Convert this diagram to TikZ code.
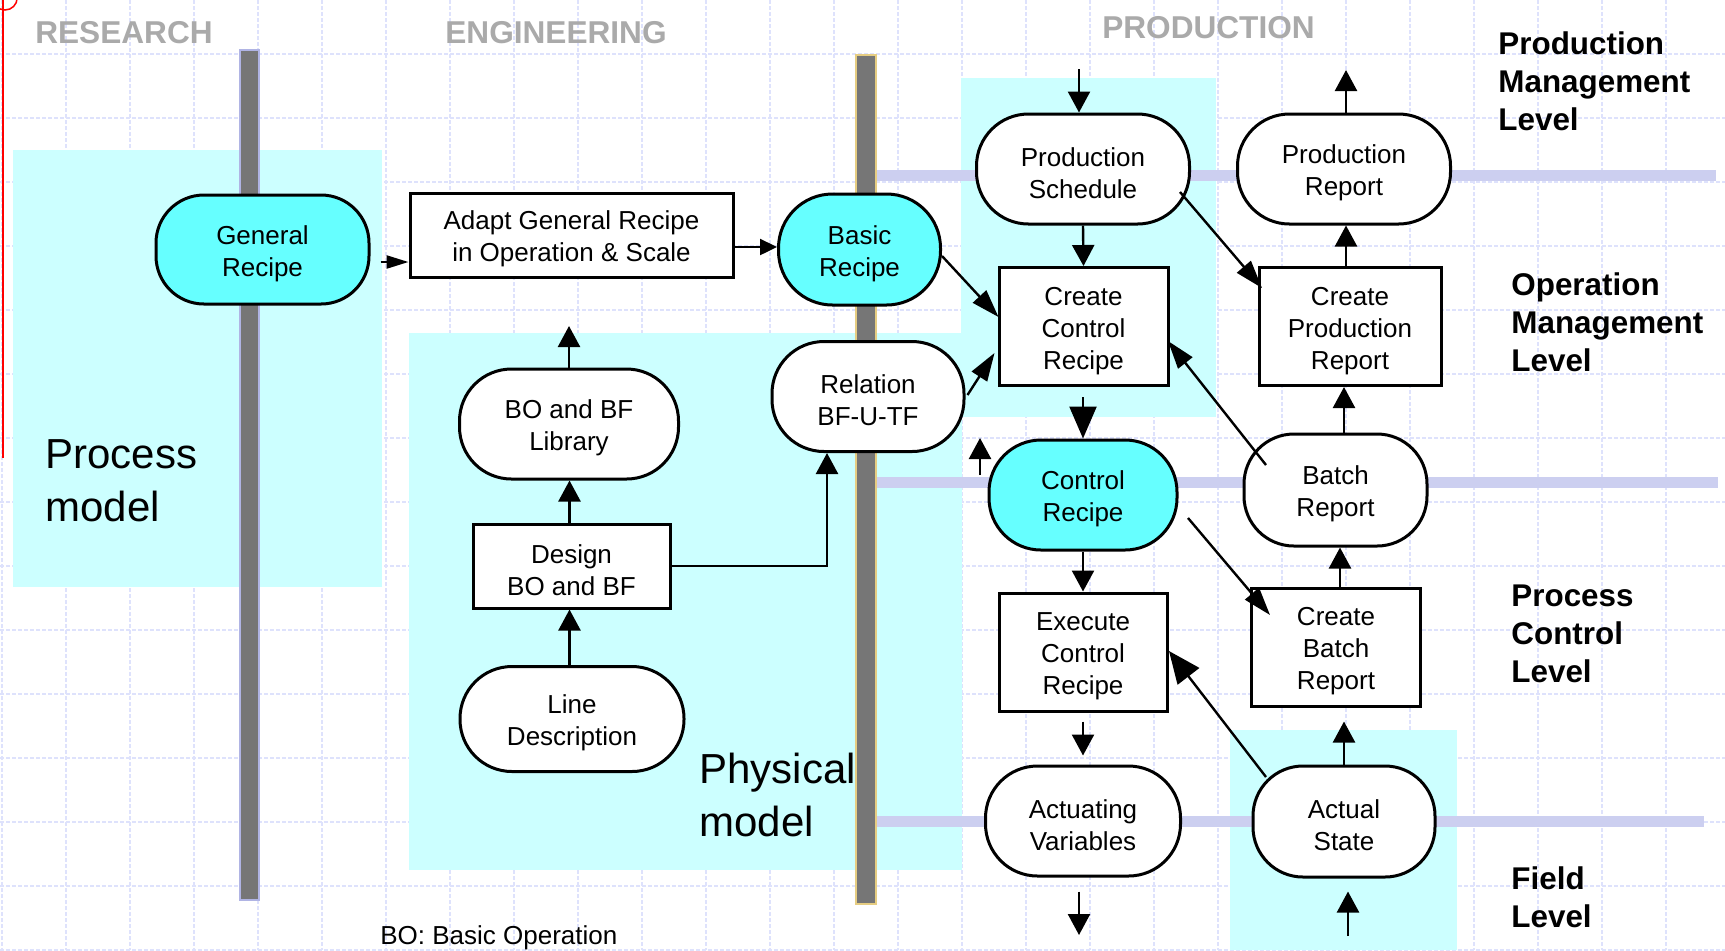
\documentclass[tikz,border=0pt]{standalone}
\usepackage{fontspec}
\setmainfont{Liberation Sans}
\usetikzlibrary{arrows.meta,calc}
\definecolor{lightcyan}{RGB}{204,255,255}
\definecolor{nodecyan}{RGB}{102,255,255}
\definecolor{gridblue}{RGB}{222,226,252}
\definecolor{levelstrip}{RGB}{204,207,240}
\definecolor{headgray}{RGB}{170,170,170}
\definecolor{barfill}{RGB}{118,118,118}
\definecolor{barlav}{RGB}{176,180,228}
\definecolor{baryel}{RGB}{230,205,130}
\newcommand{\tstrut}{\rule{0pt}{13.5pt}}
\begin{document}
\begin{tikzpicture}[x=0.5pt,y=-0.5pt,
  txt/.style={font=\fontsize{13}{16}\selectfont, align=center, inner sep=0pt, text=black},
  boxnode/.style={txt, rectangle, draw=black, line width=1.5pt, fill=white},
  stadnode/.style={txt, rectangle, rounded corners=26pt, draw=black, line width=1.5pt, fill=white},
  gridline/.style={draw=gridblue, line width=0.6pt, dash pattern=on 2pt off 1pt},
  con/.style={line width=1.2pt, -{Triangle[length=10.5pt,width=11pt]}},
  cona/.style={line width=1.2pt, -{Triangle[length=11pt,width=6.5pt]}},
  conb/.style={line width=1.2pt, -{Triangle[length=8.5pt,width=8pt]}},
  condiag/.style={line width=1.2pt, -{Triangle[length=14pt,width=9pt]}},
  conbig/.style={line width=1.2pt, -{Triangle[length=16pt,width=13.5pt]}},
  levellabel/.style={anchor=west, align=left, inner sep=0pt, font=\fontsize{15.7}{19}\bfseries\selectfont},
  header/.style={inner sep=0pt, text=headgray, font=\fontsize{15.8}{19}\bfseries\selectfont},
  bigtext/.style={anchor=west, align=left, inner sep=0pt, font=\fontsize{21}{26.5}\selectfont}
]
\clip (0,0) rectangle (1725,950);
\fill[white] (0,0) rectangle (1725,950);

% grid
\foreach \i in {0,...,26} \draw[gridline] ({2+64*\i},0) -- ({2+64*\i},950);
\foreach \j in {0,...,14} \draw[gridline] (0,{54+64*\j}) -- (1725,{54+64*\j});

% cyan regions
\fill[lightcyan] (13,150) rectangle (382,587);
\fill[lightcyan] (409,333) rectangle (962,870);
\fill[lightcyan] (961,78) rectangle (1216,417);
\fill[lightcyan] (1230,730) rectangle (1457,950);

% level strips
\fill[levelstrip] (876,170) rectangle (1716,181);
\fill[levelstrip] (876,477) rectangle (1718,488);
\fill[levelstrip] (876,816) rectangle (1704,827);

% vertical bars
\filldraw[fill=barfill, draw=barlav, line width=0.6pt] (240,50) rectangle (259,900);
\filldraw[fill=barfill, draw=baryel, line width=0.6pt] (856,55) rectangle (876,904);

% red mark
\draw[red, line width=0.75pt] (3,0) -- (3,458);
\draw[red, line width=0.75pt] (5,-2.2) circle (12.2);

% headers
\node[header] (hres) at (124,33) {RESEARCH};
\node[header] (heng) at (556,33) {ENGINEERING};
\node[header] (hpro) at (1208.5,27.5) {PRODUCTION};

% level labels
\node[levellabel] (l1) at (1498,81) {Production\\Management\\Level};
\node[levellabel] (l2) at (1511,322) {Operation\\Management\\Level};
\node[levellabel] (l3) at (1511,634) {Process\\Control\\Level};
\node[levellabel] (l4) at (1511,897) {Field\\Level};

% big labels
\node[bigtext] (pm) at (45,481) {Process\\model};
\node[bigtext] (phm) at (699,795) {Physical\\model};

% nodes
\node[stadnode, fill=nodecyan, rounded corners=24pt, minimum width=106.5pt, minimum height=54.5pt] (GR) at (262.5,249.5) {\tstrut General\\Recipe};
\node[boxnode, minimum width=161.5pt, minimum height=42pt] (AD) at (571.5,235) {\tstrut Adapt General Recipe\\in Operation \& Scale};
\node[stadnode, fill=nodecyan, rounded corners=27pt, minimum width=81pt, minimum height=55.5pt] (BaR) at (859.5,249.5) {\tstrut Basic\\Recipe};
\node[stadnode, minimum width=106.5pt, minimum height=55pt] (PS) at (1083,169) {\tstrut Production\\Schedule};
\node[stadnode, minimum width=106.5pt, minimum height=55pt] (PR) at (1344,169) {\tstrut Production\\Report};
\node[boxnode, minimum width=84.5pt, minimum height=59pt] (CCR) at (1083.5,326.5) {\tstrut Create\\Control\\Recipe};
\node[boxnode, minimum width=91pt, minimum height=59pt] (CPR) at (1350,326.5) {\tstrut Create\\Production\\Report};
\node[stadnode, minimum width=96pt, minimum height=55pt] (REL) at (868,396.5) {\tstrut Relation\\BF-U-TF};
\node[stadnode, minimum width=109.5pt, minimum height=55pt] (LIB) at (569,424) {\tstrut BO and BF\\Library};
\node[boxnode, minimum width=98.5pt, minimum height=42pt] (DES) at (571.5,566) {\tstrut Design\\BO and BF};
\node[stadnode, minimum width=112pt, minimum height=52.5pt] (LD) at (572,719) {\tstrut Line\\Description};
\node[stadnode, fill=nodecyan, minimum width=94pt, minimum height=55pt] (CR) at (1083,495) {\tstrut Control\\Recipe};
\node[stadnode, rounded corners=25pt, minimum width=91.5pt, minimum height=56pt] (BAT) at (1335.5,490) {\tstrut Batch\\Report};
\node[boxnode, minimum width=84pt, minimum height=59pt] (ECR) at (1083,652) {\tstrut Execute\\Control\\Recipe};
\node[boxnode, minimum width=84.5pt, minimum height=59pt] (CBR) at (1336,647) {\tstrut Create\\Batch\\Report};
\node[stadnode, minimum width=97.5pt, minimum height=55pt] (AV) at (1083,821) {\tstrut Actuating\\Variables};
\node[stadnode, rounded corners=25pt, minimum width=91pt, minimum height=55.5pt] (AS) at (1344,821.5) {\tstrut Actual\\State};

% free ends
\coordinate (inPS) at (1079,69);
\coordinate (outPR) at (1346,70);
\coordinate (upA) at (980,475);
\coordinate (upB) at (980,438);
\coordinate (inAS) at (1348,936);
\coordinate (outAV) at (1079,935);
\coordinate (outLIB) at (569,326);

% connectors
\draw[cona] ($(GR.east)+(10,12.5)$) -- ($(AD.west)+(0,27)$);
\draw[conb] ($(AD.east)+(0,12)$) -- ($(BaR.west)+(0,-2.5)$);
\draw[condiag] ($(BaR.east)+(0,6.5)$) -- ($(CCR.west)+(1,-9.5)$);
\draw[condiag] ($(REL.east)+(2,-1.5)$) -- ($(CCR.west)+(-3,26.5)$);
\draw[con] (PS.south) -- (CCR.north);
\draw[con] (inPS) -- ($(PS.north)+(-4,0)$);
\draw[con] ($(PR.north)+(2,0)$) -- (outPR);
\draw[condiag] ($(PS)+(97,23)$) -- ($(CPR)+(-88,-38.5)$);
\draw[con] ($(CPR.north)+(-4,0)$) -- ($(PR.south)+(2,0)$);
\draw[conbig] ($(CCR.south)+(-0.5,10)$) -- (CR.north);
\draw[con] (upA) -- (upB);
\draw[condiag] ($(BAT)+(-69.5,-25)$) -- ($(CCR)+(84.5,14.5)$);
\draw[con] ($(CBR.north)+(4,0)$) -- ($(BAT.south)+(4.5,0)$);
\draw[con] ($(BAT.north)+(8.5,0)$) -- ($(CPR.south)+(-6,0)$);
\draw[con] (CR.south) -- (ECR.north);
\draw[condiag] ($(CR)+(105,23)$) -- ($(CBR)+(-66,-32)$);
\draw[conbig] ($(AS)+(-78,-44.5)$) -- ($(ECR)+(86,-1)$);
\draw[con] (AS.north) -- ($(CBR.south)+(8,14)$);
\draw[con] (inAS) -- ($(AS.south)+(4,13)$);
\draw[con] ($(ECR.south)+(0,9)$) -- ($(AV.north)+(0,-9)$);
\draw[con] ($(AV.south)+(-4,14)$) -- (outAV);
\draw[con] ($(DES.north)+(-2,0)$) -- ($(LIB.south)+(0.5,0)$);
\draw[con] ($(LD.north)+(-2.5,0)$) -- ($(DES.south)+(-2,0)$);
\draw[con] (LIB.north) -- (outLIB);
\draw[con] (DES.east) -| ($(REL.south)+(-41,0)$);

% footer
\node[txt, anchor=base west] (foot) at (380,944) {BO: Basic Operation};
\end{tikzpicture}
\end{document}
